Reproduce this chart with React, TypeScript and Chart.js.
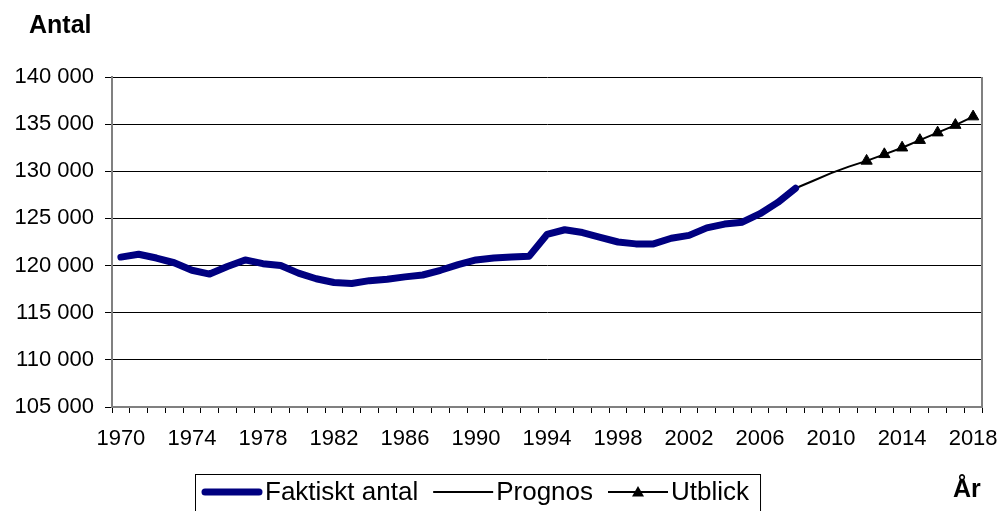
import React, { useEffect, useRef } from 'react';
import { Chart, registerables } from 'chart.js';

Chart.register(...registerables);

const years: string[] = [
  '1970', '1971', '1972', '1973', '1974', '1975', '1976', '1977', '1978', '1979',
  '1980', '1981', '1982', '1983', '1984', '1985', '1986', '1987', '1988', '1989',
  '1990', '1991', '1992', '1993', '1994', '1995', '1996', '1997', '1998', '1999',
  '2000', '2001', '2002', '2003', '2004', '2005', '2006', '2007', '2008', '2009',
  '2010', '2011', '2012', '2013', '2014', '2015', '2016', '2017', '2018',
];

// Faktiskt antal, 1970–2008
const actualStart = '1970';
const actualValues: number[] = [
  120900, 121200, 120800, 120300, 119500, 119100, 119900, 120600, 120200, 120000,
  119200, 118600, 118200, 118100, 118400, 118550, 118800, 119000, 119500, 120100,
  120600, 120800, 120900, 121000, 123300, 123800, 123500, 123000, 122500, 122300,
  122300, 122900, 123200, 124000, 124400, 124600, 125500, 126700, 128200,
];

// Prognos, 2008–2012
const prognosStart = '2008';
const prognosValues: number[] = [128200, 129000, 129800, 130500, 131100];

// Utblick, 2012–2018
const utblickStart = '2012';
const utblickValues: number[] = [131100, 131800, 132500, 133300, 134100, 134900, 135800];

const yTicks: number[] = [105000, 110000, 115000, 120000, 125000, 130000, 135000, 140000];
const xLabelYears: string[] = ['1970', '1974', '1978', '1982', '1986', '1990', '1994', '1998', '2002', '2006', '2010', '2014', '2018'];

const FONT = '"Liberation Sans", Arial, sans-serif';

function place(start: string, values: number[]): (number | null)[] {
  const s = years.indexOf(start);
  return years.map((_, i) => (i >= s && i - s < values.length ? values[i - s] : null));
}

function fmt(v: number): string {
  return String(v).replace(/\B(?=(\d{3})+(?!\d))/g, ' ');
}

const extrasPlugin = {
  id: 'extras',
  afterDraw(chart: any) {
    const ctx = chart.ctx as CanvasRenderingContext2D;
    const area = chart.chartArea;
    ctx.save();
    // plot area right border
    ctx.strokeStyle = '#808080';
    ctx.lineWidth = 2;
    ctx.beginPath();
    ctx.moveTo(area.right, area.top);
    ctx.lineTo(area.right, area.bottom);
    ctx.stroke();

    // axis titles
    ctx.fillStyle = '#000';
    ctx.font = `bold 25px ${FONT}`;
    ctx.textAlign = 'left';
    ctx.textBaseline = 'alphabetic';
    ctx.fillText('Antal', 29, 33);
    ctx.fillText('År', 953, 497);

    // legend
    const y = 492;
    let x = 202;
    ctx.font = `26px ${FONT}`;
    ctx.textBaseline = 'middle';
    chart.data.datasets.forEach((ds: any) => {
      ctx.strokeStyle = ds.borderColor;
      ctx.lineWidth = ds.borderWidth;
      ctx.lineCap = ds.borderWidth > 3 ? 'round' : 'butt';
      ctx.beginPath();
      ctx.moveTo(x + (ds.borderWidth > 3 ? 3 : 0), y);
      ctx.lineTo(x + 60 - (ds.borderWidth > 3 ? 3 : 0), y);
      ctx.stroke();
      if (ds.pointStyle === 'triangle' && ds.pointRadius > 0) {
        const cx = x + 30;
        const r = 6;
        ctx.fillStyle = '#000';
        ctx.beginPath();
        ctx.moveTo(cx, y - r);
        ctx.lineTo(cx + r, y + r * 0.75);
        ctx.lineTo(cx - r, y + r * 0.75);
        ctx.closePath();
        ctx.fill();
      }
      ctx.fillStyle = '#000';
      ctx.fillText(ds.label, x + 63, y + 1);
      x += 63 + ctx.measureText(ds.label).width + 15;
    });
    ctx.strokeStyle = '#000';
    ctx.lineWidth = 1;
    ctx.strokeRect(195.5, 474.5, x - 195 - 4, 60);
    ctx.restore();
  },
};

export default function App() {
  const canvasRef = useRef<HTMLCanvasElement | null>(null);

  useEffect(() => {
    document.body.style.margin = '0';
    const canvas = canvasRef.current;
    if (!canvas) return;
    const chart = new Chart(canvas, {
      type: 'line',
      data: {
        labels: years,
        datasets: [
          {
            label: 'Faktiskt antal',
            data: place(actualStart, actualValues),
            borderColor: '#000080',
            backgroundColor: '#000080',
            borderWidth: 7,
            borderJoinStyle: 'round',
            borderCapStyle: 'round',
            pointRadius: 0,
            pointHoverRadius: 0,
            tension: 0,
            spanGaps: false,
          },
          {
            label: 'Prognos',
            data: place(prognosStart, prognosValues),
            borderColor: '#000000',
            backgroundColor: '#000000',
            borderWidth: 2,
            pointRadius: 0,
            pointHoverRadius: 0,
            tension: 0,
          },
          {
            label: 'Utblick',
            data: place(utblickStart, utblickValues),
            borderColor: '#000000',
            backgroundColor: '#000000',
            borderWidth: 2,
            pointStyle: 'triangle',
            pointRadius: 6.5,
            pointBorderWidth: 1,
            pointBackgroundColor: '#000000',
            pointBorderColor: '#000000',
            tension: 0,
          },
        ],
      },
      options: {
        responsive: false,
        animation: false,
        layout: { padding: { top: 77, right: 17, left: 0, bottom: 0 } },
        plugins: {
          legend: { display: false },
          tooltip: { enabled: false },
          title: { display: false },
        },
        scales: {
          x: {
            type: 'category',
            offset: true,
            afterFit: (scale: any) => {
              scale.height = 104;
              scale.paddingLeft = 0;
              scale.paddingRight = 0;
            },
            grid: {
              offset: true,
              drawOnChartArea: false,
              drawTicks: true,
              tickLength: 6,
              color: '#000',
              lineWidth: 1,
            },
            border: { color: '#808080', width: 2 },
            ticks: {
              autoSkip: false,
              maxRotation: 0,
              minRotation: 0,
              padding: 13,
              color: '#000',
              font: { family: FONT, size: 22 },
              callback: (_v: any, i: number) => (xLabelYears.includes(years[i]) ? years[i] : ''),
            },
          },
          y: {
            min: yTicks[0],
            max: yTicks[yTicks.length - 1],
            afterFit: (scale: any) => {
              scale.width = 112;
              scale.paddingTop = 0;
              scale.paddingBottom = 0;
            },
            afterBuildTicks: (scale: any) => {
              scale.ticks = yTicks.map((v) => ({ value: v }));
            },
            grid: {
              color: '#000',
              lineWidth: 1,
              tickLength: 7,
            },
            border: { color: '#808080', width: 2 },
            ticks: {
              padding: 11,
              color: '#000',
              font: { family: FONT, size: 22 },
              callback: (v: any) => fmt(Number(v)),
            },
          },
        },
      },
      plugins: [extrasPlugin],
    });
    return () => chart.destroy();
  }, []);

  return (
    <div style={{ width: 999, height: 511, position: 'relative', background: '#fff' }}>
      <canvas ref={canvasRef} width={999} height={511} style={{ display: 'block' }} />
    </div>
  );
}
